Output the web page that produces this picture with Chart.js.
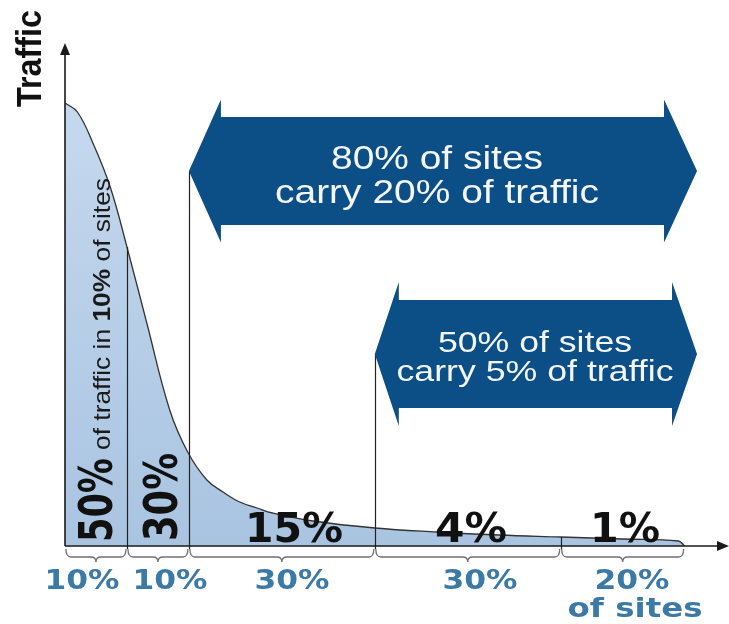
<!DOCTYPE html>
<html>
<head>
<meta charset="utf-8">
<script src="https://cdn.jsdelivr.net/npm/chart.js@4/dist/chart.umd.min.js"></script>
<style>
  body { margin: 0; background: #fff; }
  #wrap { width: 729px; height: 624px; }
</style>
</head>
<body>
<div id="wrap"><canvas id="chart"></canvas></div>
<script>
// long tail curve: share of sites (%) vs traffic level
var siteShare = [0, 2, 4.5, 7.3, 10, 13.2, 16.9, 19.8, 22.9, 25.5, 28.2, 31, 33.5, 40, 50, 60, 70, 80, 90, 99, 100];
var traffic   = [443, 434, 403, 359, 299, 223, 136, 94, 66, 54, 44, 38, 33, 25, 18, 14, 11, 9, 7, 5, 0];

// segments along the x axis
var segmentBounds = [0, 10, 20, 50, 80, 100];
var siteLabels = ["10%", "10%", "30%", "30%", "20%"];
var trafficLabels = ["50%", "30%", "15%", "4%", "1%"];

// the two callout arrows
var arrowFrom = [20, 50];
var arrowTo = [102, 102];
var arrowLevel = [375, 192];
var arrowText = [["80% of sites", "carry 20% of traffic"], ["50% of sites", "carry 5% of traffic"]];

var BLUE = "#0b4f86";
var LABEL = "#3b79a7";
var BOLD = "DejaVu Sans";
var SANS = "Liberation Sans, Arial, sans-serif";

function txt(ctx, s, x, y, font, color, o) {
  o = o || {};
  ctx.save();
  ctx.font = font;
  ctx.fillStyle = color;
  ctx.textAlign = o.align || "center";
  ctx.textBaseline = "alphabetic";
  ctx.translate(x, y);
  if (o.rotate) ctx.rotate(o.rotate);
  var sx = o.width ? o.width / ctx.measureText(s).width : 1;
  ctx.scale(sx, o.sy || 1);
  ctx.fillText(s, 0, 0);
  ctx.restore();
}

function arrow(ctx, x0, x1, yc, body, head, l0, l1) {
  ctx.beginPath();
  ctx.moveTo(x0, yc);
  ctx.lineTo(x0 + l0, yc - head / 2);
  ctx.lineTo(x0 + l0, yc - body / 2);
  ctx.lineTo(x1 - l1, yc - body / 2);
  ctx.lineTo(x1 - l1, yc - head / 2);
  ctx.lineTo(x1, yc);
  ctx.lineTo(x1 - l1, yc + head / 2);
  ctx.lineTo(x1 - l1, yc + body / 2);
  ctx.lineTo(x0 + l0, yc + body / 2);
  ctx.lineTo(x0 + l0, yc + head / 2);
  ctx.closePath();
  ctx.fillStyle = BLUE;
  ctx.fill();
}

function brace(ctx, x0, x1, y0) {
  var y1 = y0 + 8, tip = y0 + 13, mid = (x0 + x1) / 2, r = 5;
  ctx.beginPath();
  ctx.moveTo(x0, y0);
  ctx.quadraticCurveTo(x0, y1, x0 + r, y1);
  ctx.lineTo(mid - r, y1);
  ctx.quadraticCurveTo(mid, y1, mid, tip);
  ctx.quadraticCurveTo(mid, y1, mid + r, y1);
  ctx.lineTo(x1 - r, y1);
  ctx.quadraticCurveTo(x1, y1, x1, y0);
  ctx.stroke();
}

var overlay = {
  id: "overlay",
  afterDatasetsDraw: function(chart) {
    var ctx = chart.ctx, xs = chart.scales.x, ys = chart.scales.y;
    var area = chart.chartArea;
    var base = ys.getPixelForValue(0);
    var left = xs.getPixelForValue(0);

    // vertical boundary lines
    ctx.save();
    ctx.strokeStyle = "#222";
    ctx.lineWidth = 1.2;
    for (var i = 1; i < segmentBounds.length - 1; i++) {
      var b = segmentBounds[i];
      var k = arrowFrom.indexOf(b);
      var top = k >= 0 ? arrowLevel[k] : traffic[siteShare.indexOf(b)];
      var px = Math.round(xs.getPixelForValue(b)) + 0.5;
      ctx.beginPath();
      ctx.moveTo(px, ys.getPixelForValue(top));
      ctx.lineTo(px, base + 3);
      ctx.stroke();
    }
    ctx.restore();

    // axes with arrow heads
    ctx.save();
    ctx.strokeStyle = "#1a1a1a";
    ctx.fillStyle = "#1a1a1a";
    ctx.lineWidth = 1.6;
    ctx.beginPath();
    ctx.moveTo(left, base);
    ctx.lineTo(left, area.top + 8);
    ctx.moveTo(left, base);
    ctx.lineTo(area.right - 8, base);
    ctx.stroke();
    ctx.beginPath();
    ctx.moveTo(left, area.top - 2);
    ctx.lineTo(left - 5, area.top + 10);
    ctx.lineTo(left + 5, area.top + 10);
    ctx.closePath();
    ctx.fill();
    ctx.beginPath();
    ctx.moveTo(area.right + 1, base);
    ctx.lineTo(area.right - 11, base - 5);
    ctx.lineTo(area.right - 11, base + 5);
    ctx.closePath();
    ctx.fill();
    ctx.restore();

    // braces under each segment
    ctx.save();
    ctx.strokeStyle = "#707070";
    ctx.lineWidth = 1.3;
    for (var s = 0; s < segmentBounds.length - 1; s++) {
      brace(ctx, xs.getPixelForValue(segmentBounds[s]) + 1, xs.getPixelForValue(segmentBounds[s + 1]) - 1, base + 3);
    }
    ctx.restore();

    // site share labels
    var siteX = [82, 170, 292, 480, 632];
    for (var j = 0; j < siteLabels.length; j++) {
      txt(ctx, siteLabels[j], siteX[j], 589, "bold 27px " + BOLD, LABEL, { width: 75 });
    }
    txt(ctx, "of sites", 635, 617, "bold 27px " + BOLD, LABEL, { width: 135 });

    // traffic labels
    var up = -Math.PI / 2;
    txt(ctx, trafficLabels[0], 112, 542, "bold 38px " + BOLD, "#111", { align: "left", rotate: up, width: 84, sy: 1.2 });
    txt(ctx, trafficLabels[1], 177, 541, "bold 38px " + BOLD, "#111", { align: "left", rotate: up, width: 88, sy: 1.2 });
    txt(ctx, trafficLabels[2], 294, 542, "bold 41px " + BOLD, "#111", { width: 98 });
    txt(ctx, trafficLabels[3], 471, 542, "bold 41px " + BOLD, "#111", { width: 72 });
    txt(ctx, trafficLabels[4], 625, 542, "bold 41px " + BOLD, "#111", { width: 70 });

    // rotated sentence next to the first 50%
    var parts = [["of traffic in ", "24px " + SANS], ["10%", "bold 24px " + SANS], [" of sites", "24px " + SANS]];
    var total = 0, w = [];
    ctx.save();
    for (var p = 0; p < parts.length; p++) {
      ctx.font = parts[p][1];
      w.push(ctx.measureText(parts[p][0]).width);
      total += w[p];
    }
    ctx.restore();
    var kx = 272 / total, y = 450;
    for (p = 0; p < parts.length; p++) {
      txt(ctx, parts[p][0], 110, y, parts[p][1], "#1a1a1a", { align: "left", rotate: up, width: w[p] * kx });
      y -= w[p] * kx;
    }

    // callout arrows
    var dims = [[108, 143, 32, 33], [108, 144, 24, 25]];
    var textX = [437, 535];
    var fit = [[212, 324], [194, 277]];
    var fs = [34, 30];
    var shift = [[-2, 32], [-2, 27]];
    for (var a = 0; a < arrowFrom.length; a++) {
      var yc = ys.getPixelForValue(arrowLevel[a]);
      var d = dims[a];
      arrow(ctx, xs.getPixelForValue(arrowFrom[a]), xs.getPixelForValue(arrowTo[a]), yc, d[0], d[1], d[2], d[3]);
      txt(ctx, arrowText[a][0], textX[a], yc + shift[a][0], fs[a] + "px " + SANS, "#f4f6f9", { width: fit[a][0] });
      txt(ctx, arrowText[a][1], textX[a], yc + shift[a][1], fs[a] + "px " + SANS, "#f4f6f9", { width: fit[a][1] });
    }

    // axis title
    txt(ctx, "Traffic", 41, 107, "bold 30px " + SANS, "#111", { align: "left", rotate: up, width: 97, sy: 1.15 });
  }
};

var points = siteShare.map(function(x, i) { return { x: x, y: traffic[i] }; });

new Chart(document.getElementById("chart"), {
  type: "line",
  data: {
    datasets: [{
      data: points,
      fill: "origin",
      borderColor: "#333",
      borderWidth: 1.3,
      pointRadius: 0,
      tension: 0.4,
      backgroundColor: function(c) {
        var a = c.chart.chartArea;
        if (!a) return "#b6cde6";
        var g = c.chart.ctx.createLinearGradient(0, a.top + 50, 0, a.bottom);
        g.addColorStop(0, "#c6d9ee");
        g.addColorStop(1, "#a9c4e1");
        return g;
      }
    }]
  },
  options: {
    responsive: true,
    maintainAspectRatio: false,
    animation: false,
    layout: { padding: { top: 45, bottom: 78, left: 65, right: 1 } },
    plugins: { legend: { display: false }, tooltip: { enabled: false } },
    scales: {
      x: { type: "linear", min: 0, max: 107, display: false },
      y: { min: 0, max: 501, display: false }
    }
  },
  plugins: [overlay]
});
</script>
</body>
</html>
